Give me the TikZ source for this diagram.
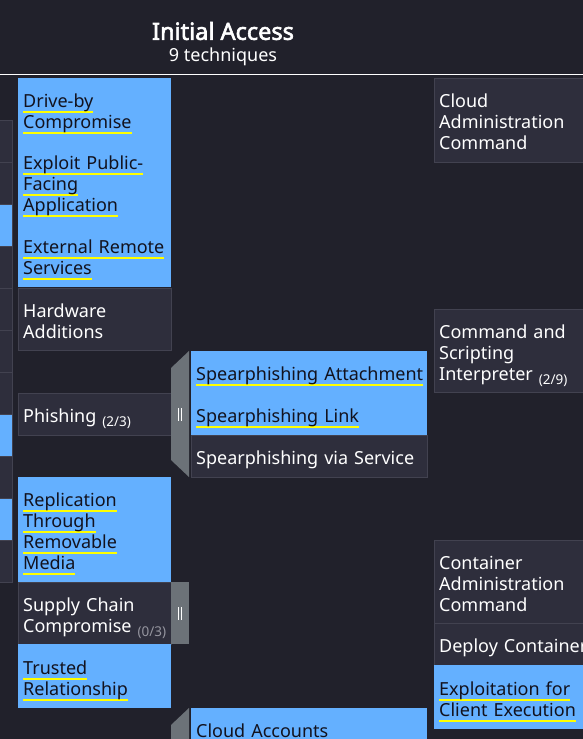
\documentclass[tikz,border=0pt]{standalone}
\usepackage{fontspec}
\setmainfont{Noto Sans}
\newfontfamily\headfont{Noto Sans}[FakeBold=2.6]
\definecolor{pagebg}{RGB}{33,33,43}
\definecolor{celldark}{RGB}{46,46,60}
\definecolor{celledge}{RGB}{66,66,80}
\definecolor{cellblue}{RGB}{100,176,255}
\definecolor{inkdark}{RGB}{18,18,30}
\definecolor{linkyellow}{RGB}{255,255,0}
\definecolor{sidegrey}{RGB}{108,114,120}
\definecolor{countgrey}{RGB}{150,150,160}
\newcommand\cellfont{\fontsize{18}{21}\selectfont}
\newcommand\ylink[1]{\leavevmode\setbox0\hbox{#1}\rlap{\color{linkyellow}\rule[-5.5pt]{\wd0}{2.4pt}}\box0}
\newcommand\subcount[1]{\raisebox{-4pt}{\fontsize{13.5}{14}\selectfont #1}}
\begin{document}
\begin{tikzpicture}[x=1pt, y=-1pt,
every node/.style = {font=\cellfont},
 darkcell/.style args = {#1/#2}{%
      rectangle, draw=celledge, fill=celldark, text=white, anchor=north west,
      inner xsep=5pt, inner ysep=0pt, align=left,
      text width=#1, minimum height=#2,
      execute at begin node=\rule{0pt}{25pt},
      execute at end node=\rule[-7.5pt]{0pt}{0pt}},
 bluecell/.style args = {#1/#2}{%
      darkcell=#1/#2, draw=none, fill=cellblue, text=inkdark},
 leftcell/.style = {rectangle, draw=celledge, fill=#1, anchor=north west,
      minimum width=32pt, minimum height=42pt, inner sep=0pt},
 sidebar/.style = {fill=sidegrey},
 grip/.style = {white, line width=1.2pt}
                    ]
\useasboundingbox (0,0) rectangle (583,739);
\fill[pagebg] (0,0) rectangle (583,739);
\clip (0,0) rectangle (583,739);
% tactic header
\node(tactic) [text=white, font=\headfont\fontsize{23.5}{26}\selectfont] at (223,31) {Initial Access};
\node(count) [text=white, font=\fontsize{18}{20}\selectfont] at (223,57) {9 techniques};
\draw[white, line width=1pt] (0,74) -- (583,74);
% column on the left edge
\foreach \y/\c in {120/celldark, 162/celldark, 204/cellblue, 246/celldark,
                   288/celldark, 330/celldark, 372/celldark, 414/cellblue,
                   456/celldark, 498/cellblue, 540/celldark}
   \node(left\y) [leftcell=\c] at (-20,\y) {};
% techniques
\node(driveby)  [bluecell=143pt/62pt] at (18,78)  {\ylink{Drive-by}\\ \ylink{Compromise}};
\node(exploit)  [bluecell=143pt/84pt] at (18,140) {\ylink{Exploit Public-}\\ \ylink{Facing}\\ \ylink{Application}};
\node(external) [bluecell=143pt/63pt] at (18,224) {\ylink{External Remote}\\ \ylink{Services}};
\node(hardware) [darkcell=143pt/62pt] at (18,288) {Hardware\\ Additions};
\node(phishing) [darkcell=143pt/42pt] at (18,393) {Phishing \subcount{(2/3)}};
\node(replicate)[bluecell=143pt/105pt] at (18,477) {\ylink{Replication}\\ \ylink{Through}\\ \ylink{Removable}\\ \ylink{Media}};
\node(supply)   [darkcell=143pt/62pt] at (18,582) {Supply Chain\\ Compromise \subcount{\textcolor{countgrey}{(0/3)}}};
\node(trusted)  [bluecell=143pt/64pt] at (18,644) {\ylink{Trusted}\\ \ylink{Relationship}};
% sub-techniques
\node(spattach) [bluecell=226pt/42pt] at (191,351) {\ylink{Spearphishing Attachment}};
\node(splink)   [bluecell=226pt/42pt] at (191,393) {\ylink{Spearphishing Link}};
\node(spservice)[darkcell=226pt/42pt] at (191,435) {Spearphishing via Service};
\node(cloudacc) [bluecell=226pt/42pt] at (191,708) {Cloud Accounts};
% next tactic
\node(cloudadmin)[darkcell=150pt/84pt] at (434,78)  {Cloud\\ Administration\\ Command};
\node(cmdscript) [darkcell=150pt/83pt] at (434,309) {Command and\\ Scripting\\ Interpreter \subcount{(2/9)}};
\node(contadmin) [darkcell=150pt/83pt] at (434,540) {Container\\ Administration\\ Command};
\node(deploy)    [darkcell=150pt/42pt] at (434,623) {Deploy Container};
\node(clientexec)[bluecell=150pt/64pt] at (434,665) {\ylink{Exploitation for}\\ \ylink{Client Execution}};
% sub-technique bars
\fill[sidebar] (171,368) -- (189,351) -- (189,477) -- (171,460) -- cycle;
\fill[sidebar] (171,582) rectangle (189,644);
\fill[sidebar] (171,725) -- (189,708) -- (189,739) -- (171,739) -- cycle;
\draw[grip] (178.5,408) -- (178.5,421);
\draw[grip] (181.5,408) -- (181.5,421);
\draw[grip] (178.5,607) -- (178.5,620);
\draw[grip] (181.5,607) -- (181.5,620);
\end{tikzpicture}
\end{document}
